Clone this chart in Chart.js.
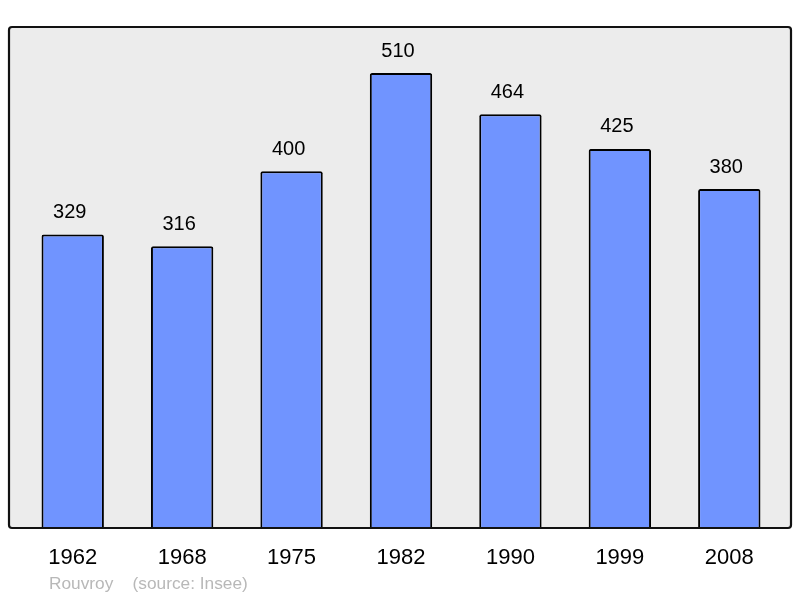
<!DOCTYPE html>
<html>
<head>
<meta charset="utf-8">
<script src="https://cdn.jsdelivr.net/npm/chart.js@4"></script>
<style>
  html, body { margin: 0; padding: 0; background: #ffffff; }
  #wrap { width: 800px; height: 598px; position: relative; }
</style>
</head>
<body>
<div id="wrap"><canvas id="myChart" width="800" height="598"></canvas></div>
<script>
// population by census year
const years = ['1962', '1968', '1975', '1982', '1990', '1999', '2008'];
const population = [329, 316, 400, 510, 464, 425, 380];
const yMax = 561.7;
const footerText = 'Rouvroy    (source: Insee)';

// grey framed panel behind the bars
const panel = {
  id: 'panel',
  beforeDatasetsDraw(chart) {
    const { ctx, chartArea } = chart;
    ctx.save();
    ctx.fillStyle = '#ececec';
    ctx.beginPath();
    ctx.roundRect(9, chartArea.top, 782, chartArea.bottom - chartArea.top, 3);
    ctx.fill();
    ctx.restore();
  },
  afterDatasetsDraw(chart) {
    const { ctx, chartArea } = chart;
    ctx.save();
    ctx.strokeStyle = '#111';
    ctx.lineWidth = 2.2;
    ctx.beginPath();
    ctx.roundRect(9, chartArea.top, 782, chartArea.bottom - chartArea.top, 3);
    ctx.stroke();

    // values above bars
    ctx.fillStyle = '#000';
    ctx.font = '20px "Liberation Sans", Arial, sans-serif';
    ctx.textAlign = 'center';
    ctx.textBaseline = 'middle';
    chart.getDatasetMeta(0).data.forEach((bar, i) => {
      ctx.fillText(population[i], bar.x - 3, bar.y - 22);
    });

    // footer
    ctx.fillStyle = '#b8b8b8';
    ctx.font = '17.3px "Liberation Sans", Arial, sans-serif';
    ctx.textAlign = 'left';
    ctx.fillText(footerText, 49, 584);
    ctx.restore();
  }
};

new Chart(document.getElementById('myChart'), {
  type: 'bar',
  data: {
    labels: years,
    datasets: [{
      data: population,
      backgroundColor: '#7094ff',
      borderColor: '#000',
      borderWidth: 2,
      borderSkipped: 'bottom',
      borderRadius: 2,
      barPercentage: 0.57,
      categoryPercentage: 1
    }]
  },
  options: {
    responsive: false,
    animation: false,
    layout: { padding: { left: 18, right: 16, top: 27, bottom: 30 } },
    plugins: { legend: { display: false }, tooltip: { enabled: false } },
    scales: {
      x: {
        grid: { display: false, drawTicks: false },
        border: { display: false },
        ticks: {
          color: '#000',
          padding: 17,
          font: { size: 22, family: '"Liberation Sans", Arial, sans-serif' }
        },
        afterFit: s => { s.height = 40; }
      },
      y: {
        display: false,
        min: 0,
        max: yMax
      }
    }
  },
  plugins: [panel]
});
</script>
</body>
</html>
